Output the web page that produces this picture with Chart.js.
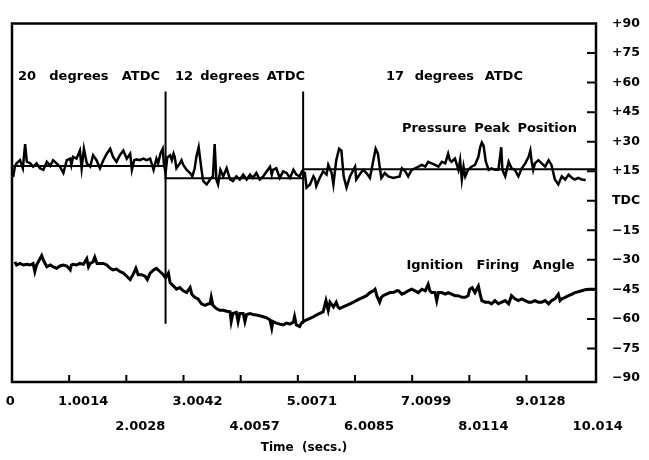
<!DOCTYPE html>
<html>
<head>
<meta charset="utf-8">
<script src="https://cdn.jsdelivr.net/npm/chart.js@4"></script>
<style>
  html, body { margin: 0; padding: 0; background: #fff; }
</style>
</head>
<body>
<canvas id="chart" width="649" height="460"></canvas>
<script>
const FONT = "DejaVu Sans";

const TIME_LABELS = ["0", "1.0014", "2.0028", "3.0042", "4.0057", "5.0071", "6.0085", "7.0099", "8.0114", "9.0128", "10.014"];
const TIME_MAX = 10.23;

const ANGLE_TICKS  = [90, 75, 60, 45, 30, 15, 0, -15, -30, -45, -60, -75, -90];
const ANGLE_LABELS = ["+90", "+75", "+60", "+45", "+30", "+15", "TDC", "\u221215", "\u221230", "\u221245", "\u221260", "\u221275", "\u221290"];

// timing changes (secs) and the span of the marker lines (degrees)
const STEP_TIMES = [2.69, 5.10];
const STEP_SPAN  = [55.5, -62.4];

// commanded pressure-peak position
const SETPOINT_TIME  = [0, 2.69, 5.10, 10.23];
const SETPOINT_ANGLE = [17.7, 11.5, 16.0, 16.0];

const PHASE_LABELS = ["20 degrees ATDC", "12 degrees ATDC", "17 degrees ATDC"];

// [time, angle]
const PRESSURE = [
    [0.02, 12.0], [0.05, 17.3], [0.08, 19.0], [0.14, 20.6], [0.19, 16.5], [0.23, 28.8], [0.26, 19.8], [0.32, 19.0],
    [0.37, 17.3], [0.43, 19.0], [0.49, 16.5], [0.55, 15.7], [0.61, 19.8], [0.67, 17.7], [0.72, 20.6], [0.78, 19.0],
    [0.84, 17.3], [0.90, 14.1], [0.96, 20.6], [1.02, 21.4], [1.04, 18.2], [1.07, 22.3], [1.13, 21.4], [1.19, 25.5],
    [1.22, 16.5], [1.26, 26.4], [1.31, 19.0], [1.37, 17.3], [1.42, 23.1], [1.48, 20.6], [1.54, 16.5], [1.60, 20.6],
    [1.66, 23.9], [1.72, 26.4], [1.77, 22.3], [1.83, 19.8], [1.89, 23.1], [1.95, 25.5], [2.01, 21.4], [2.07, 23.9],
    [2.10, 15.7], [2.14, 20.6], [2.18, 21.0], [2.24, 20.6], [2.30, 21.4], [2.36, 20.6], [2.42, 21.4], [2.48, 15.7],
    [2.53, 21.4], [2.56, 19.0], [2.60, 23.9], [2.64, 26.4], [2.66, 19.0], [2.69, 14.1],
    [2.72, 22.0], [2.77, 23.1], [2.80, 20.6], [2.83, 23.9], [2.85, 22.3], [2.88, 16.5], [2.94, 19.0], [2.97, 20.6],
    [3.00, 18.2], [3.06, 15.7], [3.12, 14.1], [3.16, 12.4], [3.20, 16.5], [3.23, 22.3], [3.27, 27.2], [3.32, 15.7],
    [3.35, 10.0], [3.41, 8.3], [3.47, 10.8], [3.52, 12.4], [3.55, 28.8], [3.58, 10.8], [3.61, 8.3], [3.65, 15.7],
    [3.70, 12.4], [3.76, 16.5], [3.82, 10.8], [3.87, 10.0], [3.93, 12.4], [3.99, 10.8], [4.05, 13.3], [4.11, 10.8],
    [4.17, 13.3], [4.22, 11.6], [4.28, 14.1], [4.34, 10.8], [4.40, 12.4], [4.46, 14.9], [4.52, 17.3], [4.55, 13.3],
    [4.57, 15.7], [4.63, 16.5], [4.69, 11.6], [4.75, 14.9], [4.81, 14.1], [4.87, 11.6], [4.93, 15.7], [4.98, 13.3],
    [5.04, 12.4], [5.08, 15.0],
    [5.13, 14.1], [5.16, 6.7], [5.22, 8.3], [5.28, 12.4], [5.31, 10.8], [5.33, 7.5], [5.39, 11.6], [5.45, 14.9],
    [5.51, 13.3], [5.54, 18.2], [5.60, 14.1], [5.63, 8.3], [5.66, 15.7], [5.68, 20.6], [5.73, 26.4], [5.77, 25.5],
    [5.81, 12.4], [5.86, 6.7], [5.92, 12.4], [5.98, 15.7], [6.01, 17.3], [6.03, 10.8], [6.09, 13.3], [6.15, 15.7],
    [6.21, 14.1], [6.27, 11.6], [6.33, 20.6], [6.37, 26.4], [6.41, 23.9], [6.44, 17.3], [6.47, 11.6], [6.53, 14.1],
    [6.59, 12.4], [6.68, 11.6], [6.79, 12.4], [6.83, 16.5], [6.89, 14.9], [6.94, 12.4], [7.00, 15.7], [7.06, 16.5],
    [7.12, 17.3], [7.18, 18.2], [7.24, 17.3], [7.29, 19.8], [7.35, 19.0], [7.41, 18.2], [7.47, 17.3], [7.53, 19.8],
    [7.59, 19.0], [7.64, 23.9], [7.67, 20.6], [7.70, 19.8], [7.76, 21.4], [7.82, 15.7], [7.85, 20.6], [7.88, 10.8],
    [7.91, 17.3], [7.94, 12.4], [7.99, 15.7], [8.05, 17.3], [8.11, 18.2], [8.17, 22.3], [8.20, 27.2], [8.23, 29.6],
    [8.26, 28.0], [8.30, 19.8], [8.35, 15.7], [8.40, 16.5], [8.46, 15.7], [8.52, 15.7], [8.57, 27.2], [8.59, 15.7],
    [8.64, 12.4], [8.70, 19.8], [8.75, 16.5], [8.81, 15.7], [8.87, 12.4], [8.93, 16.5], [8.99, 19.0], [9.05, 22.3],
    [9.08, 25.5], [9.10, 20.6], [9.13, 15.7], [9.16, 19.0], [9.22, 20.6], [9.28, 19.0], [9.34, 17.3], [9.40, 20.6],
    [9.45, 18.2], [9.51, 10.8], [9.57, 8.3], [9.63, 12.4], [9.69, 10.8], [9.75, 13.3], [9.81, 11.6], [9.86, 10.8],
    [9.92, 11.6], [9.98, 10.8], [10.05, 10.5],
];

const IGNITION = [
    [0.05, -31.0], [0.08, -32.6], [0.14, -31.8], [0.20, -32.6], [0.26, -32.2], [0.32, -32.6], [0.37, -31.8], [0.40, -35.9],
    [0.43, -32.6], [0.49, -29.4], [0.52, -27.8], [0.55, -30.2], [0.61, -33.5], [0.67, -32.6], [0.72, -33.5], [0.78, -34.3],
    [0.84, -33.1], [0.90, -32.6], [0.96, -33.1], [1.02, -35.1], [1.04, -32.6], [1.07, -32.2], [1.13, -32.6], [1.19, -31.8],
    [1.25, -32.2], [1.31, -29.4], [1.34, -33.5], [1.37, -31.8], [1.42, -31.0], [1.45, -28.6], [1.49, -31.8], [1.54, -31.8],
    [1.60, -31.8], [1.66, -32.6], [1.72, -34.3], [1.77, -35.1], [1.83, -34.7], [1.89, -35.9], [1.95, -36.7], [2.01, -38.3],
    [2.07, -40.0], [2.12, -37.5], [2.17, -34.3], [2.21, -37.5], [2.27, -37.5], [2.33, -38.3], [2.37, -40.0], [2.42, -36.7],
    [2.48, -35.1], [2.53, -34.3], [2.59, -35.9], [2.65, -37.5], [2.69, -39.2], [2.74, -36.7], [2.77, -41.6], [2.83, -43.3],
    [2.88, -44.9], [2.94, -44.1], [3.00, -45.7], [3.06, -46.6], [3.12, -44.1], [3.15, -47.4], [3.20, -49.0], [3.26, -49.8],
    [3.32, -52.3], [3.38, -53.1], [3.44, -52.3], [3.47, -52.3], [3.49, -49.0], [3.52, -53.1], [3.58, -54.7], [3.64, -55.6],
    [3.70, -55.6], [3.76, -56.1], [3.82, -56.4], [3.84, -61.3], [3.87, -57.2], [3.93, -56.7], [3.96, -61.3], [3.99, -57.2],
    [4.05, -57.2], [4.08, -61.3], [4.11, -57.7], [4.17, -57.2], [4.22, -57.7], [4.28, -58.0], [4.34, -58.4], [4.40, -58.9],
    [4.46, -59.4], [4.52, -60.5], [4.55, -64.6], [4.57, -61.3], [4.63, -62.1], [4.69, -62.6], [4.75, -63.0], [4.81, -62.1],
    [4.87, -62.6], [4.93, -61.6], [4.95, -58.9], [4.98, -63.0], [5.04, -63.8], [5.07, -62.1], [5.10, -61.3], [5.16, -60.5],
    [5.22, -59.7], [5.28, -58.9], [5.33, -58.0], [5.39, -57.2], [5.45, -56.4], [5.50, -50.7], [5.54, -55.6], [5.57, -51.5],
    [5.63, -53.9], [5.68, -51.5], [5.71, -53.9], [5.74, -54.7], [5.80, -53.9], [5.86, -53.1], [5.92, -52.3], [5.98, -51.5],
    [6.03, -50.7], [6.09, -49.8], [6.15, -49.0], [6.21, -48.2], [6.27, -46.6], [6.33, -45.7], [6.36, -44.9], [6.39, -48.2],
    [6.44, -51.5], [6.47, -49.0], [6.50, -48.2], [6.56, -47.4], [6.62, -46.6], [6.68, -46.6], [6.74, -45.7], [6.77, -45.7],
    [6.83, -47.4], [6.89, -46.6], [6.94, -45.7], [7.00, -44.9], [7.06, -45.7], [7.12, -46.6], [7.18, -44.9], [7.24, -45.7],
    [7.29, -42.4], [7.32, -45.7], [7.35, -46.6], [7.41, -46.6], [7.44, -50.7], [7.47, -46.6], [7.53, -46.6], [7.59, -47.4],
    [7.64, -46.6], [7.70, -47.4], [7.76, -48.2], [7.82, -48.2], [7.88, -49.0], [7.94, -49.0], [7.99, -48.2], [8.02, -44.9],
    [8.06, -44.1], [8.11, -46.6], [8.17, -43.3], [8.20, -47.4], [8.23, -50.7], [8.29, -51.5], [8.35, -51.5], [8.40, -52.3],
    [8.46, -50.7], [8.52, -52.3], [8.58, -51.5], [8.64, -50.7], [8.70, -52.3], [8.75, -48.2], [8.81, -49.8], [8.87, -50.7],
    [8.93, -49.8], [8.99, -50.7], [9.05, -51.5], [9.10, -51.5], [9.16, -50.7], [9.22, -51.5], [9.28, -51.5], [9.34, -50.7],
    [9.40, -52.3], [9.45, -50.7], [9.51, -49.8], [9.57, -47.4], [9.60, -50.7], [9.63, -49.8], [9.69, -49.0], [9.75, -48.2],
    [9.81, -47.4], [9.86, -46.6], [9.92, -46.2], [9.98, -45.7], [10.04, -45.2], [10.10, -44.9], [10.21, -44.9],
];

const pts = arr => arr.map(([x, y]) => ({ x, y }));

function trace(data, width) {
    return { data, borderColor: "#000", borderWidth: width, pointRadius: 0, tension: 0, fill: false };
}

// text written inside the plot, placed in data coordinates, stretched to the width it has in the scan
const NOTES = [
    { text: PHASE_LABELS[0], t: 0.105, v: 62.9, w: 142 },
    { text: PHASE_LABELS[1], t: 2.855, v: 62.9, w: 130 },
    { text: PHASE_LABELS[2], t: 6.55,  v: 62.9, w: 137 },
    { text: "Pressure Peak Position", t: 6.83, v: 36.4, w: 175 },
    { text: "Ignition Firing Angle",  t: 6.91, v: -32.9, w: 168 },
];

const framePlugin = {
    id: "frame",
    afterDatasetsDraw(chart) {
        const { ctx, chartArea: a, scales: { x, y } } = chart;
        ctx.save();
        ctx.strokeStyle = "#000";
        ctx.lineWidth = 2.5;
        ctx.strokeRect(a.left, a.top, a.right - a.left, a.bottom - a.top);

        // tick marks point into the plot
        ctx.lineWidth = 2;
        ctx.beginPath();
        TIME_LABELS.slice(1, -1).forEach(l => {
            const px = x.getPixelForValue(parseFloat(l));
            ctx.moveTo(px, a.bottom);
            ctx.lineTo(px, a.bottom - 7);
        });
        ANGLE_TICKS.slice(1, -1).forEach(v => {
            const py = y.getPixelForValue(v);
            ctx.moveTo(a.right, py);
            ctx.lineTo(a.right - 9, py);
        });
        ctx.stroke();

        ctx.fillStyle = "#000";
        ctx.font = `bold 13px "${FONT}"`;
        ctx.textBaseline = "middle";
        ctx.textAlign = "left";
        NOTES.forEach(n => {
            const words = n.text.split(" ");
            const widths = words.map(w => ctx.measureText(w).width);
            const gap = (n.w - widths.reduce((s, w) => s + w, 0)) / (words.length - 1);
            let px = x.getPixelForValue(n.t);
            const py = y.getPixelForValue(n.v);
            words.forEach((w, i) => {
                ctx.fillText(w, px, py);
                px += widths[i] + gap;
            });
        });
        ctx.restore();
    },
};

Chart.defaults.font.family = FONT;
Chart.defaults.font.weight = "bold";
Chart.defaults.color = "#000";

new Chart(document.getElementById("chart"), {
    type: "line",
    data: {
        datasets: [
            trace(pts(PRESSURE), 2.5),
            trace(pts(IGNITION), 3),
            {
                ...trace(SETPOINT_TIME.map((t, i) => ({ x: t, y: SETPOINT_ANGLE[i] })), 2),
                stepped: "before",
            },
            ...STEP_TIMES.map(t => trace(STEP_SPAN.map(v => ({ x: t, y: v })), 2)),
        ],
    },
    options: {
        responsive: false,
        animation: false,
        layout: { padding: { left: 12, top: 13, right: 0, bottom: 0 } },
        plugins: { legend: { display: false }, tooltip: { enabled: false } },
        scales: {
            x: {
                type: "linear",
                min: 0,
                max: TIME_MAX,
                grid: { display: false, drawTicks: false },
                border: { display: false },
                afterBuildTicks: s => { s.ticks = TIME_LABELS.map(l => ({ value: parseFloat(l) })); },
                afterFit: s => { s.height = 78; s.paddingLeft = 0; s.paddingRight = 0; },
                ticks: {
                    autoSkip: false,
                    maxRotation: 0,
                    labelOffset: 14,
                    padding: 7,
                    color: "#000",
                    font: { size: 13, weight: "bold", lineHeight: 1.95 },
                    callback: (v, i) => {
                        if (i === 0) return TIME_LABELS[0] + "       ";
                        return i % 2 ? [TIME_LABELS[i]] : ["", TIME_LABELS[i]];
                    },
                },
                title: {
                    display: true,
                    text: "Time  (secs.)",
                    color: "#000",
                    font: { size: 12, weight: "bold" },
                    padding: { top: 0, bottom: 5 },
                },
            },
            y: {
                type: "linear",
                position: "right",
                min: -92,
                max: 90,
                grid: { display: false, drawTicks: false },
                border: { display: false },
                afterBuildTicks: s => { s.ticks = ANGLE_TICKS.map(v => ({ value: v })); },
                afterFit: s => { s.width = 53; },
                ticks: {
                    padding: 16,
                    color: "#000",
                    font: { size: 12.5, weight: "bold" },
                    callback: v => ANGLE_LABELS[ANGLE_TICKS.indexOf(v)],
                },
            },
        },
    },
    plugins: [framePlugin],
});
</script>
</body>
</html>
